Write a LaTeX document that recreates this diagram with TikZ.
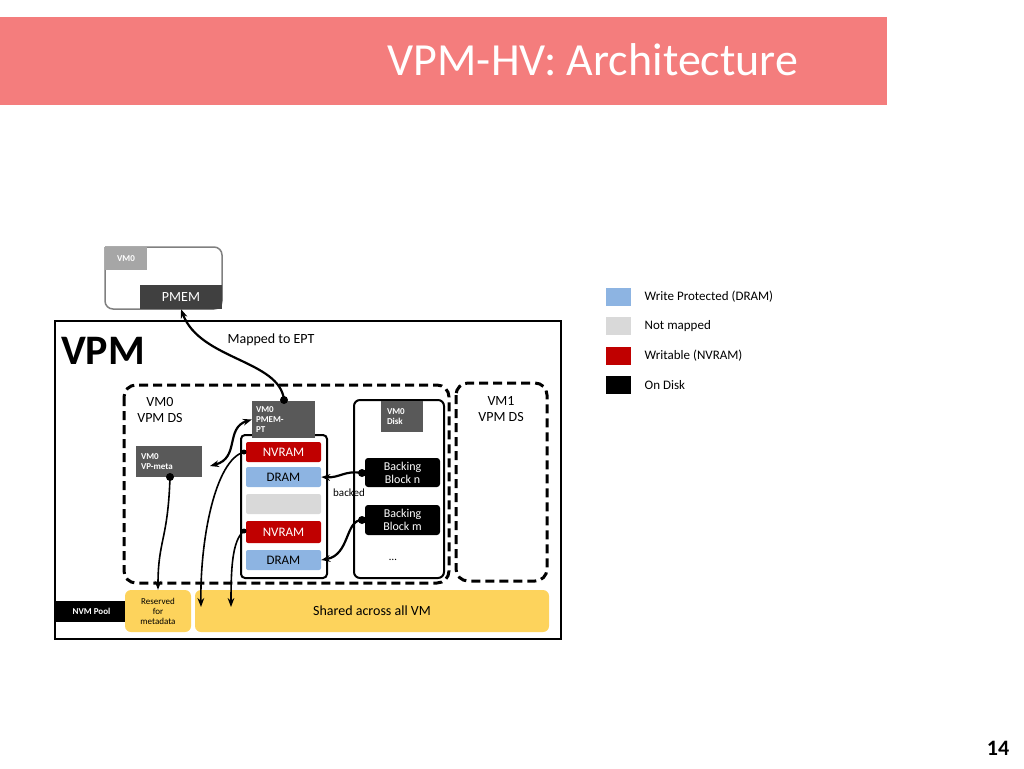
\documentclass[tikz,border=0pt]{standalone}
\usepackage{fontspec}
\setmainfont{Carlito}
\usetikzlibrary{positioning, arrows.meta}
\definecolor{salmon}{HTML}{F47D7D}
\definecolor{wprot}{HTML}{8DB4E2}
\definecolor{nvred}{HTML}{C00000}
\definecolor{unmap}{HTML}{D9D9D9}
\definecolor{pool}{HTML}{FDD35C}
\definecolor{dgray}{HTML}{595959}
\tikzset{
  blk/.style={draw=none, minimum width=75pt, minimum height=20pt, inner sep=0pt, font=\fontsize{13}{13}\selectfont},
  tag/.style={fill=dgray, text=white, font=\bfseries\fontsize{9}{10}\selectfont, align=left, inner sep=0pt},
  dsbox/.style={draw, line width=3pt, dash pattern=on 9pt off 5pt, rounded corners=12pt},
  conn/.style={line width=2.2pt, -{Stealth[length=9pt]}},
  dot/.style={circle, fill, inner sep=0pt, minimum size=8pt}
}
\begin{document}
\begin{tikzpicture}[x=1pt, y=-1pt]
  \useasboundingbox (0,0) rectangle (1024,768);
  % title
  \fill[salmon] (0,17) rectangle (887,105);
  \node[text=white, font=\fontsize{46}{46}\selectfont] (title) at (593,60) {VPM-HV: Architecture};
  % VM0 guest
  \draw[gray, line width=1.5pt, rounded corners=8pt] (105,247) -| (222,309) -| (105,247);
  \node[fill=gray!70, text=white, font=\bfseries\fontsize{9}{9}\selectfont, minimum width=42pt, minimum height=23pt, inner sep=0pt] (vmzero) at (126,258.5) {VM0};
  \node[fill=black!75, text=white, minimum width=82pt, minimum height=24pt, inner sep=0pt, font=\fontsize{14}{14}\selectfont] (pmem) at (181,297) {PMEM};
  % VPM frame
  \draw[line width=1.5pt] (55,321) rectangle (561,639);
  \node[font=\bfseries\fontsize{42}{42}\selectfont, inner sep=0pt] (vpm) at (103,351) {VPM};
  \node[font=\fontsize{14}{14}\selectfont] (ept) at (271,340) {Mapped to EPT};
  % data structures
  \draw[dsbox] (124,385) rectangle (449,583);
  \draw[dsbox] (456,383) rectangle (547,581);
  \node[align=center, font=\fontsize{14}{16}\selectfont] (dszero) at (160,410) {VM0\\VPM DS};
  \node[align=center, font=\fontsize{14}{16}\selectfont] (dsone) at (501,409) {VM1\\VPM DS};
  \draw[line width=2pt, rounded corners=4pt] (241,435) rectangle (327,578);
  \draw[line width=2pt, rounded corners=6pt] (354,400) rectangle (444,578);
  \node[tag, minimum width=63pt, minimum height=37pt, text width=55pt] (pt) at (283.5,419.5) {VM0\\PMEM-\\PT};
  \node[tag, minimum width=42pt, minimum height=31pt, text width=30pt] (disk) at (402,416.5) {VM0\\Disk};
  \node[tag, minimum width=66pt, minimum height=31pt, text width=56pt] (meta) at (169,461.5) {VM0\\VP-meta};
  \node[blk, fill=nvred, text=white, rounded corners=2pt] (nvone) at (283.5,452) {NVRAM};
  \node[blk, fill=wprot, rounded corners=2pt] (drone) at (283.5,477) {DRAM};
  \node[blk, fill=unmap, rounded corners=2pt] (gap) at (283.5,504) {};
  \node[blk, fill=nvred, text=white, rounded corners=2pt, minimum height=22pt] (nvtwo) at (283.5,532) {NVRAM};
  \node[blk, fill=wprot, rounded corners=2pt] (drtwo) at (283.5,560) {DRAM};
  \node[blk, fill=black, text=white, rounded corners=3pt, minimum height=29pt, align=center, font=\fontsize{12}{13}\selectfont] (bkn) at (402.5,472.5) {Backing\\Block n};
  \node[blk, fill=black, text=white, rounded corners=3pt, minimum height=30pt, align=center, font=\fontsize{12}{13}\selectfont] (bkm) at (402.5,520) {Backing\\Block m};
  \node[font=\fontsize{11}{11}\selectfont] (dots) at (393,560) {\dots};
  \node[font=\fontsize{11}{11}\selectfont] (backed) at (349,493) {backed};
  % NVM pool
  \node[fill=black, text=white, font=\bfseries\fontsize{9}{9}\selectfont, minimum width=73pt, minimum height=21pt, inner sep=0pt] (nvm) at (91.5,611.5) {NVM Pool};
  \node[fill=pool, rounded corners=6pt, minimum width=66pt, minimum height=42pt, inner sep=0pt, align=center, font=\fontsize{9}{10}\selectfont] (resv) at (158,611) {Reserved\\for\\metadata};
  \node[fill=pool, rounded corners=6pt, minimum width=354pt, minimum height=42pt, inner sep=0pt, font=\fontsize{14}{14}\selectfont] (shared) at (372,611) {Shared across all VM};
  % connectors
  \coordinate (ptdot) at (284,400);
  \coordinate (metadot) at (170,477);
  \coordinate (nvonedot) at (244,452);
  \coordinate (nvtwodot) at (244,531);
  \coordinate (bkndot) at (362,473);
  \coordinate (bkmdot) at (362,520);
  \coordinate (poolone) at (201,607);
  \coordinate (pooltwo) at (231,607);
  \foreach \d in {ptdot, metadot, bkndot, bkmdot} \node[dot] at (\d) {};
  \foreach \d in {nvonedot, nvtwodot} \node[dot, minimum size=5pt] at (\d) {};
  \draw[conn] (ptdot) .. controls (280,360) and (200,360) .. (pmem.south);
  \draw[conn, line width=1.6pt] (metadot) .. controls (168,540) and (158,540) .. (resv.north);
  \draw[line width=2.2pt, {Stealth[length=9pt]}-{Stealth[length=9pt]}] (pt.west) .. controls (225,428) and (240,458) .. (210,466);
  \draw[conn, line width=1.6pt] (nvonedot) .. controls (215,460) and (200,540) .. (poolone);
  \draw[conn, line width=1.6pt] (nvtwodot) .. controls (232,540) and (231,570) .. (pooltwo);
  \draw[conn] (bkndot) .. controls (345,470) and (340,478) .. (drone.east);
  \draw[conn] (bkmdot) .. controls (345,520) and (350,555) .. (drtwo.east);
  % legend
  \node[fill=wprot, minimum width=25pt, minimum height=18pt, inner sep=0pt] (lgblue) at (618.5,297) {};
  \node[fill=unmap, minimum width=25pt, minimum height=18pt, inner sep=0pt] (lggray) at (618.5,326) {};
  \node[fill=nvred, minimum width=25pt, minimum height=18pt, inner sep=0pt] (lgred) at (618.5,356) {};
  \node[fill=black, minimum width=25pt, minimum height=18pt, inner sep=0pt] (lgblack) at (618.5,385) {};
  \foreach \n/\t in {lgblue/Write Protected (DRAM), lggray/Not mapped, lgred/Writable (NVRAM), lgblack/On Disk}
    \node[right=10pt of \n, font=\fontsize{13}{13}\selectfont] {\t};
  \node[font=\bfseries\fontsize{22}{22}\selectfont] (page) at (998,748) {14};
\end{tikzpicture}
\end{document}
